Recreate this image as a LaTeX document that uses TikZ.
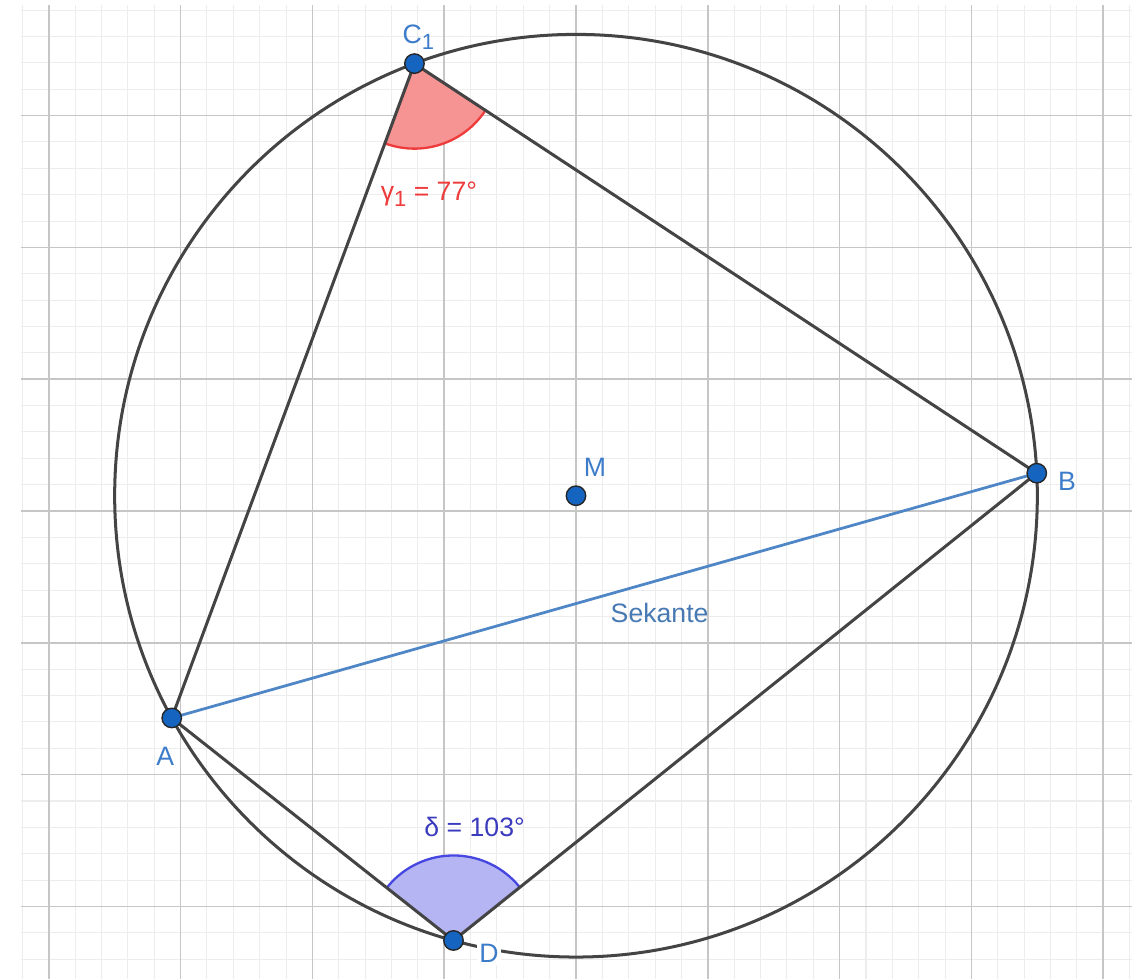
\documentclass[tikz,border=0pt]{standalone}
\usepackage{fontspec}
\setmainfont{Liberation Sans}
\usetikzlibrary{calc,angles}
\definecolor{ggline}{HTML}{444444}
\definecolor{ggsec}{HTML}{4F86C6}
\definecolor{ggpoint}{HTML}{1565C0}
\definecolor{gglabel}{HTML}{3D7CC9}
\definecolor{ggred}{HTML}{EE3B3B}
\definecolor{ggblue}{HTML}{4646E0}
\definecolor{minorgrid}{HTML}{EDEDED}
\definecolor{majorgrid}{HTML}{C6C6C6}
\newcommand{\ggsub}[1]{\raisebox{-0.45ex}{\fontsize{9.5}{10}\selectfont #1}}
\pgfdeclarelayer{bg}
\pgfsetlayers{bg,main}
\tikzset{
    pt/.style={circle,draw=black!85,fill=ggpoint,line width=0.6pt,minimum size=8.4pt,inner sep=0pt},
    ptlabel/.style={text=gglabel,inner sep=0pt,font=\fontsize{11.5}{14}\selectfont},
    chord/.style={draw=ggline,line width=1.3pt},
    secant/.style={draw=ggsec,line width=1.2pt},
    redwedge/.style={draw=ggred,line width=1pt,fill=ggred!55,angle radius=1.29cm},
    bluewedge/.style={draw=ggblue,line width=1pt,fill=ggblue!40,angle radius=1.29cm},
}

\begin{document}
\begin{tikzpicture}[x=2cm,y=2cm]
    \useasboundingbox (-4.370,-3.551) rectangle (4.241,3.877);
    \node[pt] (M) at (0,0.116) {};
    \node[pt] (A) at ($(M)+(208.8:3.5)$) {};
    \node[pt] (B) at ($(M)+(2.8:3.5)$) {};
    \node[pt] (C1) at ($(M)+(110.5:3.5)$) {};
    \node[pt] (D) at ($(M)+(254.6:3.5)$) {};
    \node[ptlabel] (lM) at ($(M)+(0.144,0.214)$) {M};
    \node[ptlabel] (lA) at ($(A)+(-0.05,-0.29)$) {A};
    \node[ptlabel] (lB) at ($(B)+(0.23,-0.06)$) {B};
    \node[ptlabel] (lC1) at ($(C1)+(0.03,0.20)$) {C\ggsub{1}};
    \node[ptlabel,fill=white,inner sep=1pt] (lD) at ($(D)+(0.27,-0.10)$) {D};
    \node[ptlabel,text=ggsec!90!black] (lsec) at ($(A)!0.5!(B)+(0.42,-0.13)$) {Sekante};
    \node[ptlabel,text=ggred] (lgamma) at ($(C1)+(0.11,-0.99)$) {γ\ggsub{1} = 77°};
    \node[ptlabel,text=ggblue!85!black] (ldelta) at ($(D)+(0.16,0.86)$) {δ = 103°};
    \begin{pgfonlayer}{bg}
        \draw[minorgrid,line width=0.45pt] (-4.211,-3.551) grid[step=0.4cm] (4.219,3.839);
        \draw[majorgrid,line width=0.7pt] (-4.211,-3.551) grid[step=2cm] (4.219,3.839);
        \pic[redwedge] {angle=A--C1--B};
        \pic[bluewedge] {angle=B--D--A};
        \draw[chord] (M.center) circle[radius=3.5];
        \draw[secant] (A.center) -- (B.center);
        \draw[chord] (A.center) -- (C1.center) -- (B.center) -- (D.center) -- cycle;
    \end{pgfonlayer}
\end{tikzpicture}
\end{document}
